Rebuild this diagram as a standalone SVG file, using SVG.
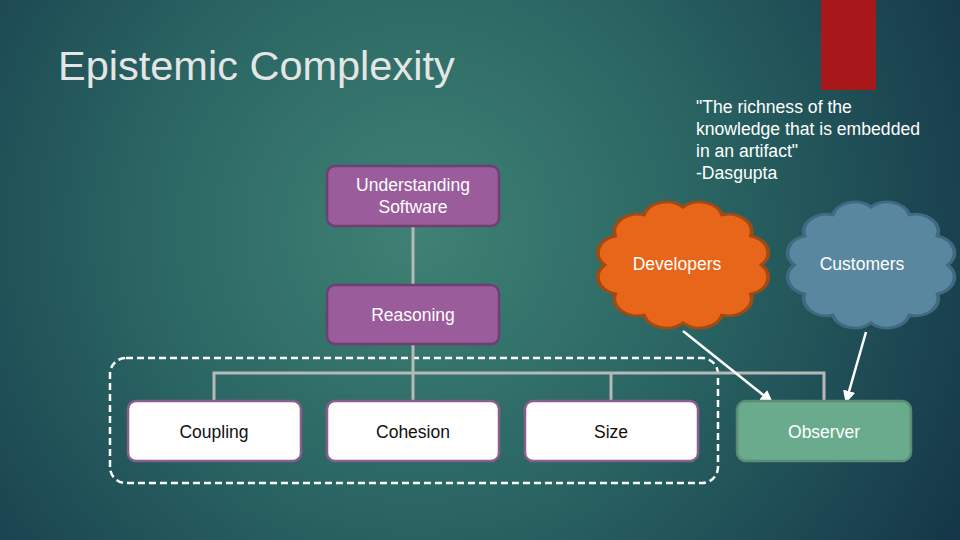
<svg xmlns="http://www.w3.org/2000/svg" xmlns:xlink="http://www.w3.org/1999/xlink" width="960" height="540" viewBox="0 0 960 540">
<defs>
<radialGradient id="bg" cx="420" cy="230" r="620" gradientUnits="userSpaceOnUse">
<stop offset="0" stop-color="#3f8274"/>
<stop offset="0.45" stop-color="#2a6563"/>
<stop offset="1" stop-color="#143648"/>
</radialGradient>
<path id="cloud" d="M40,0 A12,12 0 0 1 34.64,20 A12,12 0 0 1 20,34.64 A12,12 0 0 1 0,40 A12,12 0 0 1 -20,34.64 A12,12 0 0 1 -34.64,20 A12,12 0 0 1 -40,0 A12,12 0 0 1 -34.64,-20 A12,12 0 0 1 -20,-34.64 A12,12 0 0 1 0,-40 A12,12 0 0 1 20,-34.64 A12,12 0 0 1 34.64,-20 A12,12 0 0 1 40,0 Z"/>
<marker id="arr" viewBox="0 0 10 10" refX="9" refY="5" markerWidth="5" markerHeight="5" orient="auto" markerUnits="strokeWidth">
<path d="M0,0 L10,5 L0,10 Z" fill="#ffffff"/>
</marker>
<style>
text{font-family:"Liberation Sans",Arial,sans-serif;}
.purple{fill:#9a5c9b;stroke:#6e3f72;stroke-width:2.5;}
.white{fill:#ffffff;stroke:#8a5e8c;stroke-width:2.5;}
.lbl{font-size:17.5px;text-anchor:middle;fill:#ffffff;}
.dark{font-size:17.5px;text-anchor:middle;fill:#111111;}
.tree{stroke:#b8b8b8;stroke-width:3;fill:none;}
.arrow{stroke:#ffffff;stroke-width:2.5;fill:none;marker-end:url(#arr);}
</style>
</defs>
<rect x="0" y="0" width="960" height="540" fill="url(#bg)"/>
<rect x="821" y="0" width="55" height="90" fill="#a8181a"/>
<text x="58" y="80" font-size="41.5" fill="#e4e6e6">Epistemic Complexity</text>
<g id="quote">
<text x="696" y="113" font-size="17.6" fill="#ffffff">"The richness of the</text>
<text x="696" y="135" font-size="17.6" fill="#ffffff">knowledge that is embedded</text>
<text x="696" y="157" font-size="17.6" fill="#ffffff">in an artifact"</text>
<text x="696" y="179" font-size="17.6" fill="#ffffff">-Dasgupta</text>
</g>
<rect x="110" y="358" width="608" height="125" rx="16" fill="none" stroke="#ffffff" stroke-width="2.5" stroke-dasharray="7,4"/>
<g id="connectors">
<path class="tree" d="M413,226 V285 M413,344 V400 M214,400 V373 H824 V400 M611,373 V400"/>
<line class="arrow" x1="683" y1="331" x2="772" y2="402"/>
<line class="arrow" x1="866" y1="332" x2="846" y2="402"/>
</g>
<g id="understanding">
<rect class="purple" x="327" y="166" width="172" height="60" rx="8"/>
<text class="lbl" x="413" y="191">Understanding</text>
<text class="lbl" x="413" y="213">Software</text>
</g>
<g id="reasoning">
<rect class="purple" x="327" y="285" width="172" height="59" rx="8"/>
<text class="lbl" x="413" y="321">Reasoning</text>
</g>
<g id="coupling">
<rect class="white" x="128" y="401" width="173" height="60" rx="8"/>
<text class="dark" x="214" y="438">Coupling</text>
</g>
<g id="cohesion">
<rect class="white" x="327" y="401" width="172" height="60" rx="8"/>
<text class="dark" x="413" y="438">Cohesion</text>
</g>
<g id="size">
<rect class="white" x="525" y="401" width="173" height="60" rx="8"/>
<text class="dark" x="611" y="438">Size</text>
</g>
<g id="observer">
<rect x="737" y="401" width="174" height="60" rx="9" fill="#6aab8e" stroke="#5a8c76" stroke-width="2.5"/>
<text class="lbl" x="824" y="438">Observer</text>
</g>
<g id="developers">
<use xlink:href="#cloud" transform="translate(683,265) scale(1.96,1.45)" fill="#e8661a" stroke="#a04a16" stroke-width="2" style="vector-effect:non-scaling-stroke"/>
<text class="lbl" x="677" y="270">Developers</text>
</g>
<g id="customers">
<use xlink:href="#cloud" transform="translate(871,265) scale(1.92,1.45)" fill="#5a87a0" stroke="#3f6a82" stroke-width="2" style="vector-effect:non-scaling-stroke"/>
<text class="lbl" x="862" y="270">Customers</text>
</g>
</svg>
